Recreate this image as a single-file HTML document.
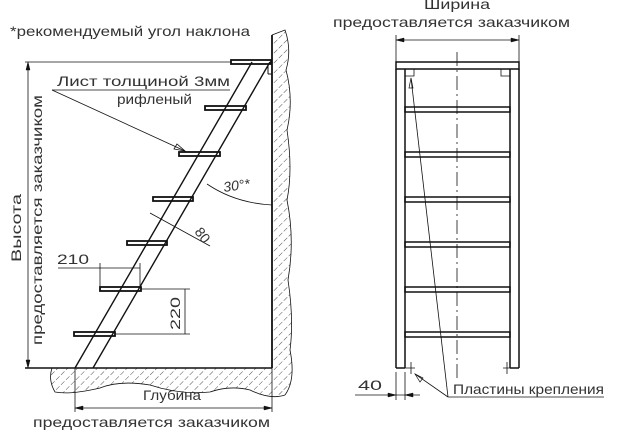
<!DOCTYPE html>
<html><head><meta charset="utf-8"><style>body{margin:0;background:#fff}svg{display:block}text{font-family:"Liberation Sans",sans-serif;fill:#333;font-size:14px}</style></head><body>
<svg width="623" height="438" viewBox="0 0 623 438" xmlns="http://www.w3.org/2000/svg">
<defs><pattern id="h" width="7" height="7" patternUnits="userSpaceOnUse" patternTransform="rotate(45)"><line x1="0" y1="0" x2="0" y2="7" stroke="#222" stroke-width="0.8" stroke-dasharray="5 2"/></pattern></defs>
<g stroke="#111" fill="none" stroke-width="1">
<path d="M272,35 L285,30 Q292,50 286,70 Q294,100 287,130 Q293,170 287,200 Q295,240 288,280 Q294,320 290,350 Q296,380 285,395 L272,368 Z" fill="url(#h)" stroke="none"/>
<path d="M272,35 L285,30 Q292,50 286,70 Q294,100 287,130 Q293,170 287,200 Q295,240 288,280 Q294,320 290,350 Q296,380 285,395" stroke-width="0.8"/>
<path d="M52,368 L272,368 L285,395 Q270,400 250,390 Q230,385 210,392 Q180,395 150,385 Q120,380 100,388 Q70,395 55,392 Q48,380 52,368 Z" fill="url(#h)" stroke="none"/>
<path d="M52,368 Q48,380 55,392 Q70,395 100,388 Q120,380 150,385 Q180,395 210,392 Q230,385 250,390 Q270,400 285,395" stroke-width="0.8"/>
<line x1="272" y1="35" x2="272" y2="368" stroke-width="1.8"/>
<line x1="25" y1="368" x2="272" y2="368" stroke-width="1.5"/>
<line x1="75" y1="368" x2="252" y2="62" stroke-width="1.4"/>
<line x1="93" y1="368" x2="270" y2="62" stroke-width="1.4"/>
<line x1="268" y1="66" x2="268" y2="74"/><line x1="268" y1="74" x2="272" y2="74"/>
<g stroke-width="1.8">
<rect x="231" y="60" width="40" height="4"/><rect x="205" y="106" width="41" height="4"/><rect x="179" y="152" width="41" height="4"/><rect x="153" y="197" width="40" height="4"/><rect x="127" y="241" width="40" height="4"/><rect x="100" y="287" width="41" height="4"/><rect x="74" y="332" width="41" height="4"/>
</g>
<line x1="25" y1="62" x2="231" y2="62" stroke-width="0.8"/>
<line x1="28" y1="62" x2="28" y2="368" stroke-width="0.8"/>
<path d="M28,62 l-2,8 l4,0 z M28,368 l-2,-8 l4,0 z" fill="#111" stroke-width="0.5"/>
<line x1="52" y1="90" x2="230" y2="90" stroke-width="0.8"/>
<line x1="52" y1="90" x2="185" y2="151" stroke-width="0.8"/>
<path d="M185,151 l-11,-2 l3,-5 z" stroke-width="0.8"/>
<path d="M207,184 Q235,203 272,205" stroke-width="0.8"/>
<line x1="150" y1="213" x2="210" y2="246" stroke-width="0.8"/>
<line x1="58" y1="268" x2="140" y2="268" stroke-width="0.8"/>
<line x1="100" y1="263" x2="100" y2="288" stroke-width="0.8"/><line x1="140" y1="263" x2="140" y2="288" stroke-width="0.8"/>
<line x1="141" y1="289" x2="190" y2="289" stroke-width="0.8"/><line x1="115" y1="334" x2="190" y2="334" stroke-width="0.8"/>
<line x1="185" y1="289" x2="185" y2="334" stroke-width="0.8"/>
<line x1="75" y1="368" x2="75" y2="412" stroke-width="0.8"/><line x1="272" y1="368" x2="272" y2="412" stroke-width="0.8"/>
<line x1="75" y1="408" x2="272" y2="408" stroke-width="0.8"/>
<path d="M75,408 l8,-2 l0,4 z M272,408 l-8,-2 l0,4 z" fill="#111" stroke-width="0.5"/>
<rect x="396" y="62" width="123" height="7" stroke-width="1.5"/>
<line x1="396" y1="69" x2="396" y2="368" stroke-width="1.5"/><line x1="405" y1="69" x2="405" y2="368" stroke-width="1.5"/>
<line x1="510" y1="69" x2="510" y2="368" stroke-width="1.5"/><line x1="519" y1="69" x2="519" y2="368" stroke-width="1.5"/>
<line x1="396" y1="368" x2="405" y2="368" stroke-width="1.5"/><line x1="510" y1="368" x2="519" y2="368" stroke-width="1.5"/>
<g stroke-width="1.5">
<rect x="405" y="107" width="105" height="5"/><rect x="405" y="152" width="105" height="5"/><rect x="405" y="197" width="105" height="5"/><rect x="405" y="242" width="105" height="5"/><rect x="405" y="287" width="105" height="5"/><rect x="405" y="332" width="105" height="5"/>
</g>
<path d="M405,76 L414,76 L414,69 M510,76 L501,76 L501,69" stroke-width="0.8"/>
<line x1="457" y1="52" x2="457" y2="380" stroke-width="0.8" stroke-dasharray="14 4 2 4"/>
<line x1="396" y1="35" x2="396" y2="62" stroke-width="0.8"/><line x1="519" y1="35" x2="519" y2="62" stroke-width="0.8"/>
<line x1="396" y1="40" x2="519" y2="40" stroke-width="0.8"/>
<path d="M396,40 l8,-2 l0,4 z M519,40 l-8,-2 l0,4 z" fill="#111" stroke-width="0.5"/>
<path d="M405,368 h10 M411,362 v12 M503,368 h10 M507,362 v12" stroke-width="0.8"/>
<line x1="448" y1="397" x2="411" y2="78" stroke-width="0.8"/><path d="M411,78 l-2,10 l4,0 z" stroke-width="0.7"/>
<line x1="448" y1="397" x2="415" y2="374" stroke-width="0.8"/><path d="M415,374 l5,8 l3,-4 z" stroke-width="0.7"/>
<line x1="448" y1="397" x2="604" y2="397" stroke-width="0.8"/>
<line x1="396" y1="372" x2="396" y2="400" stroke-width="0.8"/><line x1="405" y1="372" x2="405" y2="400" stroke-width="0.8"/>
<line x1="355" y1="395" x2="420" y2="395" stroke-width="0.8"/>
<path d="M396,395 l-8,-2 l0,4 z M405,395 l8,-2 l0,4 z" fill="#111" stroke-width="0.5"/>
</g>
<text x="10" y="36" textLength="240" lengthAdjust="spacingAndGlyphs">*рекомендуемый угол наклона</text>
<text x="57" y="86" textLength="173" lengthAdjust="spacingAndGlyphs">Лист толщиной 3мм</text>
<text x="117" y="104" textLength="75" lengthAdjust="spacingAndGlyphs">рифленый</text>
<text x="224" y="192" font-size="16" font-style="italic" transform="rotate(-8 224 192)">30°*</text>
<text x="194" y="232" font-size="16" transform="rotate(52 194 232)">80</text>
<text x="57" y="264" font-size="16" textLength="32" lengthAdjust="spacingAndGlyphs">210</text>
<text x="180" y="330" font-size="16" transform="rotate(-90 180 330)" textLength="33" lengthAdjust="spacingAndGlyphs">220</text>
<text x="21" y="262" font-size="15" transform="rotate(-90 21 262)" textLength="68" lengthAdjust="spacingAndGlyphs">Высота</text>
<text x="42" y="345" transform="rotate(-90 42 345)" textLength="250" lengthAdjust="spacingAndGlyphs">предоставляется заказчиком</text>
<text x="143" y="400" textLength="58" lengthAdjust="spacingAndGlyphs">Глубина</text>
<text x="33" y="427" textLength="237" lengthAdjust="spacingAndGlyphs">предоставляется заказчиком</text>
<text x="424" y="9" textLength="66" lengthAdjust="spacingAndGlyphs">Ширина</text>
<text x="333" y="27" textLength="237" lengthAdjust="spacingAndGlyphs">предоставляется заказчиком</text>
<text x="358" y="390" font-size="16" textLength="24" lengthAdjust="spacingAndGlyphs">40</text>
<text x="453" y="394" textLength="151" lengthAdjust="spacingAndGlyphs">Пластины крепления</text>
</svg></body></html>
